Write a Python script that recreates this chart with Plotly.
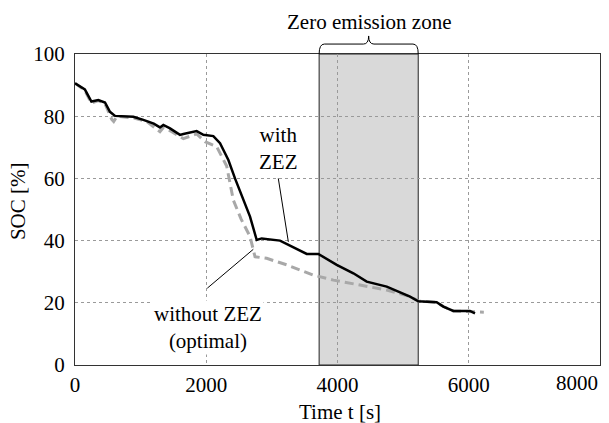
import plotly.graph_objects as go

# --- data ---
t_with = [0, 150, 250, 355, 457, 533, 610, 889, 1041, 1200, 1295, 1346, 1448, 1600, 1651, 1854, 1956, 2108, 2210,
          2337, 2438, 2560, 2667, 2769, 2845, 3124, 3251, 3531, 3708, 3988, 4242, 4445, 4750, 5105, 5232,
          5511, 5613, 5765, 6019, 6095]
soc_with = [90.6, 88.6, 84.7, 85.2, 84.4, 81.4, 80.1, 79.8, 78.8, 77.6, 76.4, 77.2, 76.1, 74.0, 74.3, 75.2, 74.0, 73.6, 71.3,
            65.9, 60.0, 53.5, 47.7, 40.2, 40.7, 40.0, 38.6, 35.7, 35.7, 32.2, 29.5, 26.8, 25.2, 22.0, 20.5,
            20.2, 18.8, 17.4, 17.4, 16.6]

t_without = [0, 150, 250, 355, 457, 560, 590, 640, 900, 1100, 1295, 1350, 1450, 1651, 1854, 1981, 2159, 2311,
             2413, 2530, 2667, 2743, 2921, 3226, 3632, 3937, 4343, 4750, 5105, 5232, 5511, 5613, 5765, 6019, 6230]
soc_without = [90.6, 88.3, 84.2, 85.0, 84.0, 79.0, 78.3, 80.0, 79.4, 78.2, 75.0, 76.4, 75.3, 72.8, 74.3, 71.8, 70.2, 64.0,
               53.0, 47.0, 41.3, 34.8, 34.3, 32.2, 28.9, 27.3, 25.7, 24.1, 22.0, 20.6, 20.1, 18.8, 17.4, 17.2, 17.0]

zez_start, zez_end = 3720, 5230
x_ticks = [0, 2000, 4000, 6000, 8000]
y_ticks = [0, 20, 40, 60, 80, 100]

FONT = "Liberation Serif, Times New Roman, DejaVu Serif, serif"
FS = 21

fig = go.Figure()
fig.add_trace(go.Scatter(x=t_without, y=soc_without, mode="lines",
                         line=dict(color="#a8a8a8", width=3, dash="9px,5px"), showlegend=False))
fig.add_trace(go.Scatter(x=t_with, y=soc_with, mode="lines",
                         line=dict(color="black", width=2.5), showlegend=False))

# zero emission zone
fig.add_shape(type="rect", x0=zez_start, x1=zez_end, y0=0, y1=100, xref="x", yref="y",
              fillcolor="#d9d9d9", line=dict(color="#222", width=1), layer="below")

# brace over zone
xm = (zez_start + zez_end) / 2
d = 80
yb, yt = 1.032, 1.058
path = (f"M {zez_start},1.0 Q {zez_start},{yb} {zez_start + d},{yb} L {xm - d},{yb} "
        f"Q {xm},{yb} {xm},{yt} Q {xm},{yb} {xm + d},{yb} L {zez_end - d},{yb} "
        f"Q {zez_end},{yb} {zez_end},1.0")
fig.add_shape(type="path", path=path, xref="x", yref="paper", line=dict(color="black", width=1))

fig.add_annotation(x=4480, y=1.103, xref="x", yref="paper", text="Zero emission zone", showarrow=False,
                   xanchor="center", yanchor="middle",
                   font=dict(family=FONT, size=FS, color="black"))

# pointer lines
fig.add_shape(type="line", x0=3098, y0=60.0, x1=3251, y1=39.6, xref="x", yref="y",
              line=dict(color="black", width=1))
fig.add_shape(type="line", x0=2016, y0=24.7, x1=2717, y1=37.2, xref="x", yref="y",
              line=dict(color="black", width=1))

fig.add_annotation(x=3094, y=69.5, text="with<br>ZEZ", showarrow=False,
                   xanchor="center", yanchor="middle",
                   font=dict(family=FONT, size=FS, color="black"))
fig.add_annotation(x=2019, y=12.0, text="without ZEZ<br>(optimal)", showarrow=False,
                   xanchor="center", yanchor="middle",
                   font=dict(family=FONT, size=FS, color="black"), bgcolor="white")

# last x tick label drawn right-aligned at the axis end (as in the reference)
fig.add_annotation(x=x_ticks[-1], y=-0.058, xref="x", yref="paper", text=str(x_ticks[-1]),
                   showarrow=False, xanchor="right", yanchor="middle",
                   font=dict(family=FONT, size=FS, color="black"))

# axis titles
fig.add_annotation(x=0.505, y=-0.151, xref="paper", yref="paper", text="Time t [s]", showarrow=False,
                   xanchor="center", yanchor="middle", font=dict(family=FONT, size=FS, color="black"))
fig.add_annotation(x=-0.1086, y=0.527, xref="paper", yref="paper", text="SOC [%]", showarrow=False,
                   textangle=-90, xanchor="center", yanchor="middle",
                   font=dict(family=FONT, size=FS, color="black"))

fig.update_layout(
    width=609, height=423,
    margin=dict(l=75, r=9, t=54, b=58),
    paper_bgcolor="white", plot_bgcolor="white",
    font=dict(family=FONT, size=FS, color="black"),
)
fig.update_xaxes(range=[0, 8000], tickvals=x_ticks,
                 ticktext=[str(v) for v in x_ticks[:-1]] + [""],
                 showgrid=True, gridcolor="#9a9a9a", griddash="3px,3px", gridwidth=1,
                 showline=True, linecolor="#333", linewidth=1, mirror=True, zeroline=False,
                 ticks="", ticklabelstandoff=1, automargin=False)
fig.update_yaxes(range=[0, 100], tickvals=y_ticks, ticktext=[str(v) for v in y_ticks],
                 showgrid=True, gridcolor="#9a9a9a", griddash="3px,3px", gridwidth=1,
                 showline=True, linecolor="#333", linewidth=1, mirror=True, zeroline=False,
                 ticks="", ticklabelstandoff=5, automargin=False)

fig.write_html("out.html", config={"displayModeBar": False},
               post_script="document.body.style.margin='0px';")
